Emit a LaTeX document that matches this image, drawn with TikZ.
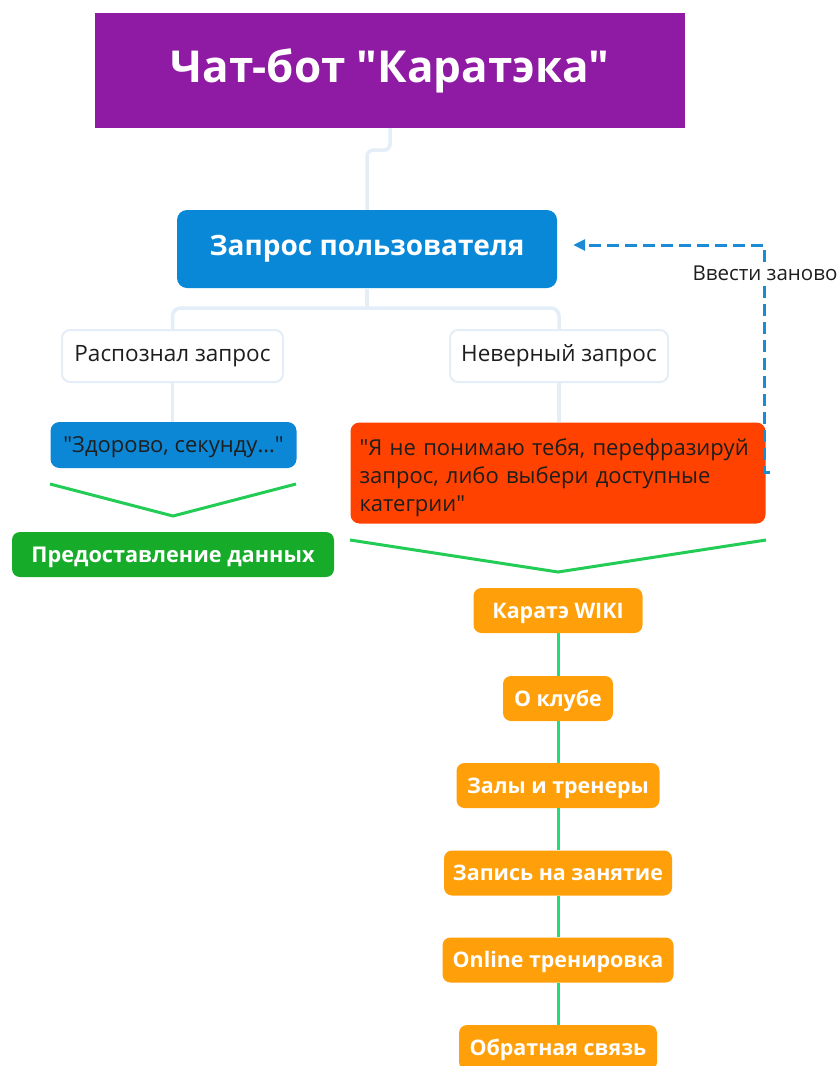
\documentclass[tikz,border=0pt]{standalone}
\usepackage{fontspec}
\setmainfont[Ligatures=TeXOff]{Open Sans}
\usetikzlibrary{arrows.meta}

\definecolor{titlepurple}{HTML}{8F1AA3}
\definecolor{reqblue}{HTML}{0A88D8}
\definecolor{paleline}{HTML}{E3EEF8}
\definecolor{quoteblue}{HTML}{0C87D6}
\definecolor{errred}{HTML}{FF4200}
\definecolor{okgreen}{HTML}{16AC2A}
\definecolor{vgreen}{HTML}{22CC55}
\definecolor{chaingreen}{HTML}{22DD77}
\definecolor{menuorange}{HTML}{FFA00A}
\definecolor{dashblue}{HTML}{1B8BD6}
\definecolor{inktext}{HTML}{1E1E1E}

\tikzset{
  % box height equal to the capital height, so capitals sit in the middle
  capcentre/.style={text height=#1, text depth=0pt},
  titlebox/.style={fill=titlepurple, text=white, font=\bfseries\fontsize{44}{50}\selectfont,
    minimum width=590pt, minimum height=115pt, inner sep=0pt},
  reqbox/.style={fill=reqblue, text=white, rounded corners=10pt, font=\bfseries\fontsize{28}{32}\selectfont,
    minimum width=380pt, minimum height=78pt, inner sep=0pt},
  choicebox/.style={draw=paleline, line width=2pt, rounded corners=8pt, text=inktext,
    font=\fontsize{22.5}{26}\selectfont, minimum height=52pt, inner sep=0pt},
  replybox/.style={rounded corners=9pt, text=inktext, font=\fontsize{22}{28}\selectfont, inner sep=0pt},
  databox/.style={fill=okgreen, text=white, rounded corners=8pt, font=\bfseries\fontsize{21.7}{24}\selectfont,
    minimum width=322pt, minimum height=45pt, inner sep=0pt, capcentre=15.5pt},
  menubox/.style={fill=menuorange, text=white, rounded corners=8pt, font=\bfseries\fontsize{21.4}{24}\selectfont,
    minimum height=45pt, inner sep=0pt, capcentre=15.3pt},
  paleconn/.style={draw=paleline, line width=3.5pt},
  vline/.style={draw=vgreen, line width=3pt},
  chainline/.style={draw=chaingreen, line width=3pt},
  retry/.style={draw=dashblue, line width=3pt, dash pattern=on 12pt off 6pt,
    -{Triangle[length=12pt,width=11pt]}},
}

\begin{document}
\begin{tikzpicture}[x=1pt, y=-1pt]
  \useasboundingbox[fill=white] (0,0) rectangle (838,1066);

  % header and the user request
  \node[titlebox] (title) at (390,70.5) {Чат-бот "Каратэка"};
  \node[reqbox] (req) at (367,249) {Запрос пользователя};

  % the two outcomes of recognition
  \node[choicebox, minimum width=221pt] (rec) at (172.5,356) {Распознал запрос};
  \node[choicebox, minimum width=218pt] (bad) at (559,356) {Неверный запрос};

  % bot replies
  \node[replybox, capcentre=15.7pt, fill=quoteblue, minimum width=246pt, minimum height=46pt] (ok) at (173.5,445) {"Здорово, секунду…"};
  \node[replybox, fill=errred, minimum width=415pt, minimum height=101pt,
        text width=397pt, align=left] (err) at (558,473)
        {\rule{0pt}{27pt}"Я не понимаю тебя, перефразируй\\запрос, либо выбери доступные\\категрии"};

  \node[databox] (data) at (173,554.5) {Предоставление данных};

  % menu of categories
  \node[menubox, minimum width=169pt] (m1) at (558,610.5) {Каратэ WIKI};
  \node[menubox, minimum width=110pt] (m2) at (558,698.5) {О клубе};
  \node[menubox, minimum width=203pt] (m3) at (558,785.5) {Залы и тренеры};
  \node[menubox, minimum width=228pt] (m4) at (558,873) {Запись на занятие};
  \node[menubox, minimum width=231pt] (m5) at (558,960) {Online тренировка};
  \node[menubox, minimum width=198pt] (m6) at (558,1047.5) {Обратная связь};

  % pale tree connectors
  \draw[paleconn, rounded corners=6pt] (title.south) -- ++(0,22) -| (req.north);
  \coordinate (split) at (req.south |- 0,308);
  \draw[paleconn] (req.south) -- (split);
  \draw[paleconn, rounded corners=8pt] (rec.north) |- (split) -| (bad.north);
  \draw[paleconn] (rec.south) -- (rec.south |- ok.north);
  \draw[paleconn] (bad.south) -- (bad.south |- err.north);

  % green chevrons under the replies
  \coordinate (okL) at (50,484);
  \coordinate (okV) at (173,516);
  \coordinate (okR) at (296,484);
  \draw[vline] (okL) -- (okV) -- (okR);
  \coordinate (errL) at (350,540);
  \coordinate (errV) at (558,572);
  \coordinate (errR) at (766,540);
  \draw[vline] (errL) -- (errV) -- (errR);

  % menu chain
  \draw[chainline] (m1.south) -- (m2.north);
  \draw[chainline] (m2.south) -- (m3.north);
  \draw[chainline] (m3.south) -- (m4.north);
  \draw[chainline] (m4.south) -- (m5.north);
  \draw[chainline] (m5.south) -- (m6.north);

  % retry loop back to the request
  \coordinate (retryStart) at (770,472);
  \draw[retry] (retryStart) -- ++(-6,0) |- ([xshift=16pt,yshift=4pt]req.east);
  \node[fill=white, text=inktext, font=\fontsize{20.5}{24}\selectfont, inner sep=1pt] (again) at (765,273) {Ввести заново};
\end{tikzpicture}
\end{document}
